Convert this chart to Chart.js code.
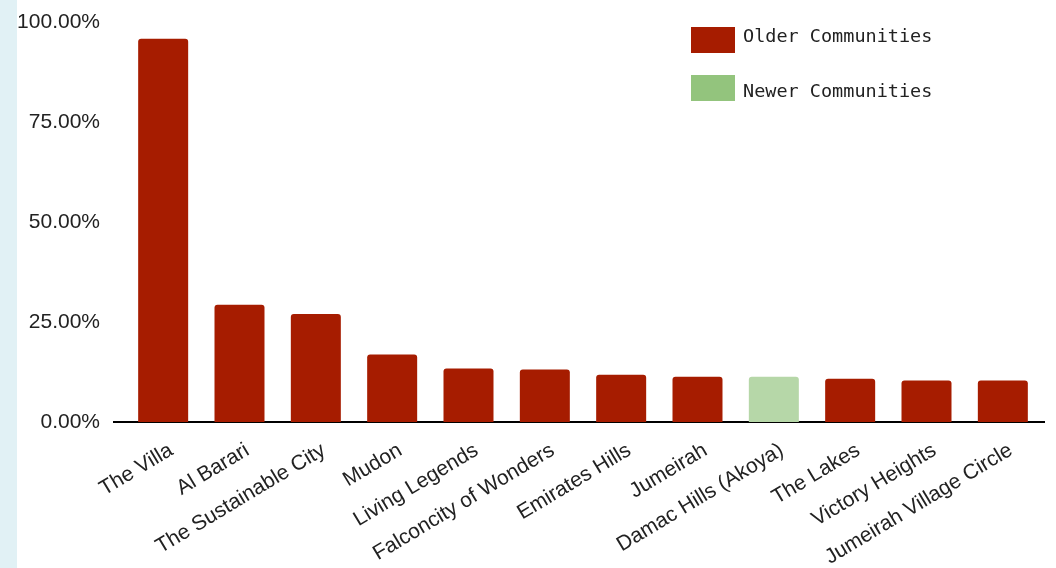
<!DOCTYPE html>
<html>
<head>
<meta charset="utf-8">
<script src="https://cdn.jsdelivr.net/npm/chart.js@4"></script>
<style>
  html, body { margin: 0; padding: 0; }
  body { background: #e1f1f5; width: 1056px; height: 568px; overflow: hidden; }
  .chartBox { position: absolute; left: 17px; top: 0; width: 1039px; height: 568px; background: #fff; }
</style>
</head>
<body>
<div class="chartBox"><canvas id="barChart"></canvas></div>
<script>
// Datos del gráfico
const communities = ['The Villa', 'Al Barari', 'The Sustainable City', 'Mudon', 'Living Legends',
    'Falconcity of Wonders', 'Emirates Hills', 'Jumeirah', 'Damac Hills (Akoya)', 'The Lakes',
    'Victory Heights', 'Jumeirah Village Circle'];
const olderValues = [95.8, 29.3, 27.0, 16.9, 13.4, 13.1, 11.8, 11.3, null, 10.8, 10.4, 10.4];
const newerValues = [null, null, null, null, null, null, null, null, 11.3, null, null, null];
const seriesNames = ['Older Communities', 'Newer Communities'];
const yTicks = [0, 25, 50, 75, 100];

const RED = '#a61c00';
const GREEN_BAR = '#b6d7a8';
const GREEN_LEGEND = '#93c47d';
const LABEL_FONT = { family: '"Liberation Sans", Arial, sans-serif', size: 21 };

// linea base debajo de las barras
const baselinePlugin = {
    id: 'baseline',
    beforeDatasetsDraw(chart) {
        const ctx = chart.ctx;
        const y = chart.scales.y.getPixelForValue(0);
        ctx.save();
        ctx.strokeStyle = '#000';
        ctx.lineWidth = 2;
        ctx.beginPath();
        ctx.moveTo(96, y);
        ctx.lineTo(1028, y);
        ctx.stroke();
        ctx.restore();
    }
};

// leyenda dibujada a mano
const legendPlugin = {
    id: 'customLegend',
    afterDraw(chart) {
        const ctx = chart.ctx;
        const colors = [RED, GREEN_LEGEND];
        const boxTops = [27, 75];
        const textY = [37, 92];
        ctx.save();
        ctx.font = '18.5px "DejaVu Sans Mono", "Liberation Mono", monospace';
        ctx.textBaseline = 'middle';
        seriesNames.forEach((name, i) => {
            ctx.fillStyle = colors[i];
            ctx.fillRect(674, boxTops[i], 44, 26);
            ctx.fillStyle = '#222';
            ctx.fillText(name, 726, textY[i]);
        });
        ctx.restore();
    }
};

function renderBarChart() {
    const ctx = document.getElementById('barChart').getContext('2d');
    const radius = { topLeft: 3, topRight: 3, bottomLeft: 0, bottomRight: 0 };
    new Chart(ctx, {
        type: 'bar',
        data: {
            labels: communities,
            datasets: [{
                label: seriesNames[0],
                data: olderValues,
                backgroundColor: RED,
                borderRadius: radius,
                borderSkipped: false
            }, {
                label: seriesNames[1],
                data: newerValues,
                backgroundColor: GREEN_BAR,
                borderRadius: radius,
                borderSkipped: false
            }]
        },
        options: {
            responsive: true,
            maintainAspectRatio: false,
            animation: false,
            datasets: { bar: { barPercentage: 0.655, categoryPercentage: 1 } },
            layout: { padding: { top: 22, right: 15, left: 0, bottom: 0 } },
            plugins: {
                legend: { display: false },
                tooltip: { enabled: false }
            },
            scales: {
                x: {
                    stacked: true,
                    afterFit(scale) {
                        scale.height = 146;
                        scale.paddingLeft = 0;
                        scale.paddingRight = 0;
                    },
                    grid: { display: false, drawTicks: false },
                    border: { display: false },
                    ticks: {
                        color: '#222',
                        font: LABEL_FONT,
                        maxRotation: 31,
                        minRotation: 31,
                        autoSkip: false,
                        labelOffset: 8,
                        padding: 16
                    }
                },
                y: {
                    stacked: true,
                    min: 0,
                    max: 100,
                    afterFit(scale) {
                        scale.width = 108;
                        scale.paddingTop = 0;
                        scale.paddingBottom = 0;
                    },
                    afterBuildTicks(scale) { scale.ticks = yTicks.map(v => ({ value: v })); },
                    grid: { display: false, drawTicks: false },
                    border: { display: false },
                    ticks: {
                        color: '#222',
                        font: LABEL_FONT,
                        padding: 25,
                        callback: v => v.toFixed(2) + '%'
                    }
                }
            }
        },
        plugins: [baselinePlugin, legendPlugin]
    });
}

document.addEventListener('DOMContentLoaded', renderBarChart);
</script>
</body>
</html>
